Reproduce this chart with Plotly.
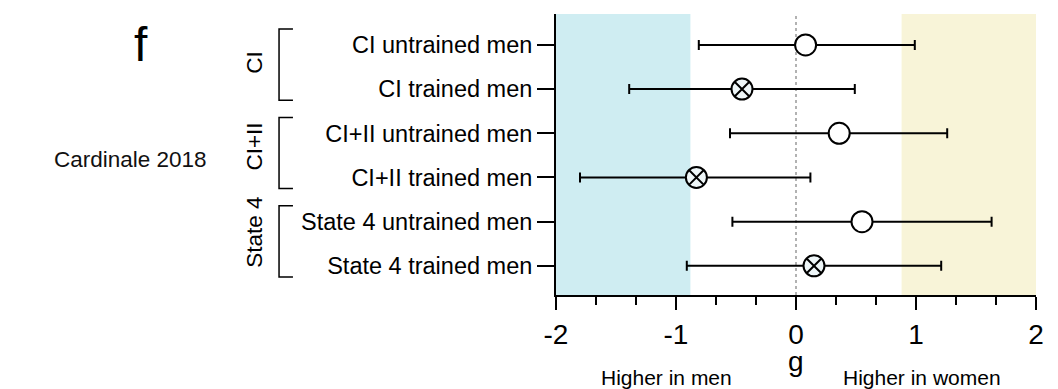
import plotly.graph_objects as go

labels = ["CI untrained men", "CI trained men", "CI+II untrained men",
          "CI+II trained men", "State 4 untrained men", "State 4 trained men"]
g_values = [0.08, -0.45, 0.36, -0.83, 0.55, 0.15]
ci_low = [-0.81, -1.39, -0.55, -1.80, -0.53, -0.91]
ci_high = [0.99, 0.49, 1.26, 0.12, 1.63, 1.21]
trained = [False, True, False, True, False, True]
groups = ["CI", "CI+II", "State 4"]
x_ticks = [-2, -1, 0, 1, 2]
men_zone = [-2, -0.88]
women_zone = [0.88, 2]

rows = list(range(len(labels)))
err_plus = [h - v for h, v in zip(ci_high, g_values)]
err_minus = [v - l for v, l in zip(g_values, ci_low)]

FONT = "Liberation Sans, Arial, sans-serif"

fig = go.Figure()

for is_trained in (False, True):
    idx = [i for i in rows if trained[i] == is_trained]
    fig.add_trace(go.Scatter(
        x=[g_values[i] for i in idx],
        y=[rows[i] for i in idx],
        mode="markers",
        marker=dict(
            symbol="circle-x" if is_trained else "circle",
            size=21,
            color="#eef6f8" if is_trained else "white",
            line=dict(color="black", width=2),
        ),
        error_x=dict(type="data", symmetric=False,
                     array=[err_plus[i] for i in idx],
                     arrayminus=[err_minus[i] for i in idx],
                     color="black", thickness=2, width=5),
        showlegend=False,
    ))

shapes = [
    dict(type="rect", xref="x", yref="paper", x0=men_zone[0], x1=men_zone[1],
         y0=0, y1=1, fillcolor="#cfedf2", line_width=0, layer="below"),
    dict(type="rect", xref="x", yref="paper", x0=women_zone[0], x1=women_zone[1],
         y0=0, y1=1, fillcolor="#f8f4d8", line_width=0, layer="below"),
    dict(type="line", xref="x", yref="paper", x0=0, x1=0, y0=0, y1=1,
         line=dict(color="#999999", width=1.5, dash="dot"), layer="below"),
]

# group brackets
bx0, bx1 = -0.577, -0.548
for gi, name in enumerate(groups):
    top = rows[2 * gi] - 0.36
    bot = rows[2 * gi + 1] + 0.25
    shapes.append(dict(type="path", xref="paper", yref="y",
                       path=f"M {bx1},{top} L {bx0},{top} L {bx0},{bot} L {bx1},{bot}",
                       line=dict(color="black", width=1.5)))

annotations = []
label_pos = [0.4, 2.3, 4.25]
for name, yp in zip(groups, label_pos):
    annotations.append(dict(text=name, xref="paper", yref="y", x=-0.627, y=yp,
                            xanchor="center", yanchor="middle",
                            textangle=-90, showarrow=False,
                            font=dict(size=22.5, family=FONT, color="black")))

annotations += [
    dict(text="g", xref="x", yref="paper", x=0, y=-0.238,
         xanchor="center", yanchor="middle", showarrow=False,
         font=dict(size=28, family=FONT, color="black")),
    dict(text="Higher in men", xref="x", yref="paper", x=-1.08, y=-0.292,
         xanchor="center", yanchor="middle",
         showarrow=False, font=dict(size=21, family=FONT, color="black")),
    dict(text="Higher in women", xref="x", yref="paper", x=1.05, y=-0.292,
         xanchor="center", yanchor="middle",
         showarrow=False, font=dict(size=21, family=FONT, color="black")),
    dict(text="Cardinale 2018", xref="paper", yref="y", x=-0.886, y=2.6,
         xanchor="center", yanchor="middle", showarrow=False,
         font=dict(size=22.5, family=FONT, color="#111111")),
    dict(text="f", xref="paper", yref="paper", x=-0.865, y=0.89,
         xanchor="center", yanchor="middle",
         showarrow=False, font=dict(size=48, family=FONT, color="black")),
]

fig.update_layout(
    width=1050, height=381,
    margin=dict(l=548, r=22, t=6, b=94),
    plot_bgcolor="white", paper_bgcolor="white",
    shapes=shapes, annotations=annotations,
    font=dict(family=FONT, color="black"),
    xaxis=dict(range=[-2, 2], tickvals=x_ticks, ticktext=[str(t) for t in x_ticks],
               showline=True, linecolor="black", linewidth=2,
               ticks="outside", ticklen=13, tickwidth=2, tickcolor="black",
               minor=dict(dtick=1/3, ticks="outside", ticklen=8, tickwidth=2,
                          tickcolor="black", showgrid=False, tick0=-2),
               showgrid=False, zeroline=False,
               tickfont=dict(size=28, family=FONT)),
    yaxis=dict(range=[5.66, -0.70], tickvals=rows, ticktext=labels,
               showline=True, linecolor="black", linewidth=2,
               ticks="outside", ticklen=17, tickwidth=1.5, tickcolor="black",
               showgrid=False, zeroline=False,
               tickfont=dict(size=23.5, family=FONT)),
)

fig.write_html("out.html")
